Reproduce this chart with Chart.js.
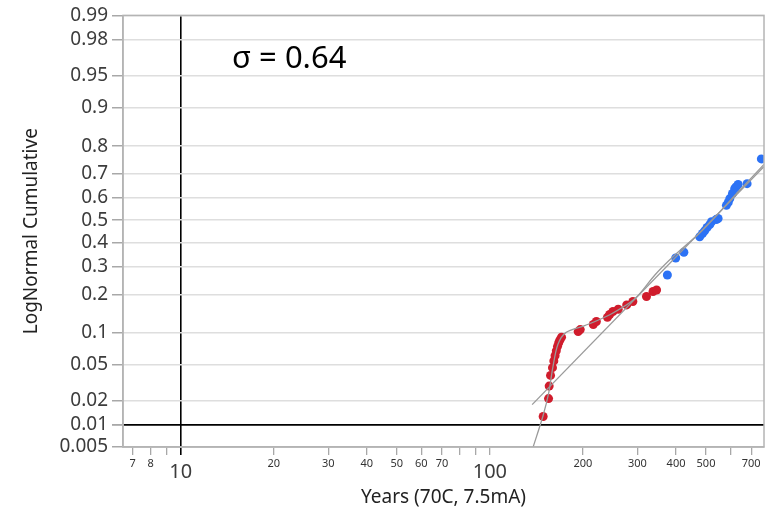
<!DOCTYPE html>
<html>
<head>
<meta charset="utf-8">
<script src="https://cdn.jsdelivr.net/npm/chart.js@4.4.1/dist/chart.umd.min.js"></script>
<style>
  html, body { margin: 0; padding: 0; background: #fff; }
  #wrap { width: 774px; height: 515px; }
</style>
</head>
<body>
<div id="wrap"><canvas id="probPlot"></canvas></div>
<script>
// tick values
const yTickProbs = [0.005, 0.01, 0.02, 0.05, 0.1, 0.2, 0.3, 0.4, 0.5, 0.6, 0.7, 0.8, 0.9, 0.95, 0.98, 0.99];
const xTickValues = [7, 8, 9, 10, 20, 30, 40, 50, 60, 70, 80, 90, 100, 200, 300, 400, 500, 600, 700];
const xTickLabels = { 7: '7', 8: '8', 10: '10', 20: '20', 30: '30', 40: '40', 50: '50', 60: '60', 70: '70',
                      100: '100', 200: '200', 300: '300', 400: '400', 500: '500', 700: '700' };
const xMajor = [10, 100];
const refYear = 10;
const refProb = 0.01;

// red failures (early population)
const redYears = [148.7, 154.8, 155.5, 157.1, 159.4, 161, 162.5, 164, 165.5, 167, 168.5, 170.5,
                  193, 196, 216, 221, 240, 244, 250, 260, 277, 290, 321, 337, 346];
const redCum = [0.0129, 0.0214, 0.0298, 0.039, 0.047, 0.055, 0.062, 0.069, 0.076, 0.082, 0.087, 0.092,
                0.103, 0.107, 0.118, 0.125, 0.135, 0.142, 0.150, 0.156, 0.168, 0.178, 0.193, 0.209, 0.214];

// blue failures (main population)
const blueYears = [375, 399, 424, 477, 487, 495, 504, 514, 521, 540, 547, 582, 590, 597, 609, 619, 625, 635, 679, 755];
const blueCum = [0.267, 0.334, 0.358, 0.425, 0.44, 0.452, 0.467, 0.48, 0.493, 0.503, 0.508,
                 0.567, 0.58, 0.597, 0.619, 0.64, 0.647, 0.658, 0.661, 0.757];

// curved mixture fit
const mixYears = [138, 148.4, 155.1, 159.8, 165.9, 176, 202.6, 244.3, 294.2, 341.7, 396.3, 477, 553, 642, 770];
const mixCum = [0.005, 0.013, 0.0253, 0.0473, 0.079, 0.1008, 0.1155, 0.1416, 0.186, 0.267, 0.346, 0.442, 0.536, 0.633, 0.737];

// straight lognormal fit
const fitYears = [137, 770];
const fitCum = [0.0181, 0.729];
const sigmaText = 'σ = 0.64';

// inverse normal cdf (Acklam)
function probit(p) {
    const a = [-39.69683028665376, 220.9460984245205, -275.9285104469687, 138.3577518672690, -30.66479806614716, 2.506628277459239];
    const b = [-54.47609879822406, 161.5858368580409, -155.6989798598866, 66.80131188771972, -13.28068155288572];
    const c = [-0.007784894002430293, -0.3223964580411365, -2.400758277161838, -2.549732539343734, 4.374664141464968, 2.938163982698783];
    const d = [0.007784695709041462, 0.3224671290700398, 2.445134137142996, 3.754408661907416];
    const pl = 0.02425;
    let q, r;
    if (p < pl) {
        q = Math.sqrt(-2 * Math.log(p));
        return (((((c[0]*q + c[1])*q + c[2])*q + c[3])*q + c[4])*q + c[5]) / ((((d[0]*q + d[1])*q + d[2])*q + d[3])*q + 1);
    }
    if (p > 1 - pl) {
        q = Math.sqrt(-2 * Math.log(1 - p));
        return -(((((c[0]*q + c[1])*q + c[2])*q + c[3])*q + c[4])*q + c[5]) / ((((d[0]*q + d[1])*q + d[2])*q + d[3])*q + 1);
    }
    q = p - 0.5;
    r = q * q;
    return (((((a[0]*r + a[1])*r + a[2])*r + a[3])*r + a[4])*r + a[5])*q / (((((b[0]*r + b[1])*r + b[2])*r + b[3])*r + b[4])*r + 1);
}

const toPoints = (xs, ps) => xs.map((x, i) => ({ x: x, y: probit(ps[i]) }));
const near = (a, b) => Math.abs(a - b) < 1e-6;

const frameAndNote = {
    id: 'frameAndNote',
    afterDraw(chart) {
        const { ctx, chartArea } = chart;
        ctx.save();
        ctx.strokeStyle = '#b4b4b4';
        ctx.lineWidth = 1.5;
        ctx.strokeRect(chartArea.left, chartArea.top, chartArea.right - chartArea.left, chartArea.bottom - chartArea.top);
        ctx.fillStyle = '#000';
        ctx.font = '31px "Noto Sans", sans-serif';
        ctx.textBaseline = 'alphabetic';
        ctx.fillText(sigmaText, chartArea.left + 109, chartArea.top + 53);
        ctx.restore();
    }
};

window.probPlotChart = new Chart(document.getElementById('probPlot').getContext('2d'), {
    type: 'scatter',
    data: {
        datasets: [
            {
                label: 'mixture fit',
                type: 'line',
                data: toPoints(mixYears, mixCum),
                borderColor: '#9a9a9a',
                borderWidth: 1.3,
                pointRadius: 0,
                tension: 0.3,
                fill: false
            },
            {
                label: 'lognormal fit',
                type: 'line',
                data: toPoints(fitYears, fitCum),
                borderColor: '#9a9a9a',
                borderWidth: 1.3,
                pointRadius: 0,
                fill: false
            },
            {
                label: 'early',
                data: toPoints(redYears, redCum),
                backgroundColor: 'rgb(208, 28, 44)',
                borderWidth: 0,
                pointRadius: 4.5
            },
            {
                label: 'main',
                data: toPoints(blueYears, blueCum),
                backgroundColor: 'rgb(44, 114, 245)',
                borderWidth: 0,
                pointRadius: 4.5
            }
        ]
    },
    options: {
        responsive: true,
        maintainAspectRatio: false,
        animation: false,
        layout: { padding: { left: 20, right: 10, top: 14, bottom: 0 } },
        plugins: {
            legend: { display: false },
            tooltip: { enabled: false }
        },
        scales: {
            x: {
                type: 'logarithmic',
                min: 6.51,
                max: 770,
                afterBuildTicks: (scale) => {
                    scale.ticks = xTickValues.map(v => ({ value: v }));
                },
                afterFit: (scale) => { scale.height = 68; },
                ticks: {
                    autoSkip: false,
                    maxRotation: 0,
                    padding: 2,
                    color: (ctx) => (ctx.tick && xMajor.includes(ctx.tick.value)) ? '#3c3c3c' : '#333',
                    font: (ctx) => (ctx.tick && xMajor.includes(ctx.tick.value))
                        ? { family: '"Noto Sans", sans-serif', size: 20, lineHeight: 1.5 }
                        : { family: '"Noto Sans", sans-serif', size: 11, lineHeight: 1.2 },
                    callback: (value) => xTickLabels[value] || ''
                },
                grid: {
                    drawOnChartArea: true,
                    tickLength: 8,
                    color: (ctx) => (ctx.tick && near(ctx.tick.value, refYear)) ? '#000' : 'rgba(0,0,0,0)',
                    tickColor: (ctx) => (ctx.tick && near(ctx.tick.value, refYear)) ? '#000' : '#a8a8a8',
                    lineWidth: (ctx) => (ctx.tick && near(ctx.tick.value, refYear)) ? 1.6 : 1.3
                },
                border: { display: true, color: '#b4b4b4', width: 1.5 },
                title: {
                    display: true,
                    text: 'Years (70C, 7.5mA)',
                    color: '#222',
                    font: { family: '"Noto Sans", sans-serif', size: 19 },
                    padding: { top: 2, bottom: 6 }
                }
            },
            y: {
                type: 'linear',
                min: probit(0.005),
                max: probit(0.99),
                afterBuildTicks: (scale) => {
                    scale.ticks = yTickProbs.map(p => ({ value: probit(p) }));
                },
                afterFit: (scale) => { scale.width = 103; },
                ticks: {
                    autoSkip: false,
                    padding: 4,
                    color: '#3c3c3c',
                    font: { family: '"Noto Sans", sans-serif', size: 19 },
                    callback: (value, index) => String(yTickProbs[index])
                },
                grid: {
                    tickLength: 11,
                    color: (ctx) => (ctx.tick && near(ctx.tick.value, probit(refProb))) ? '#000' : '#dedede',
                    tickColor: '#a8a8a8',
                    lineWidth: (ctx) => (ctx.tick && near(ctx.tick.value, probit(refProb))) ? 1.8 : 1.5
                },
                border: { display: true, color: '#b4b4b4', width: 1.5 },
                title: {
                    display: true,
                    text: 'LogNormal Cumulative',
                    color: '#222',
                    font: { family: '"Noto Sans", sans-serif', size: 19 },
                    padding: { top: 0, bottom: 4 }
                }
            }
        }
    },
    plugins: [frameAndNote]
});
</script>
</body>
</html>
